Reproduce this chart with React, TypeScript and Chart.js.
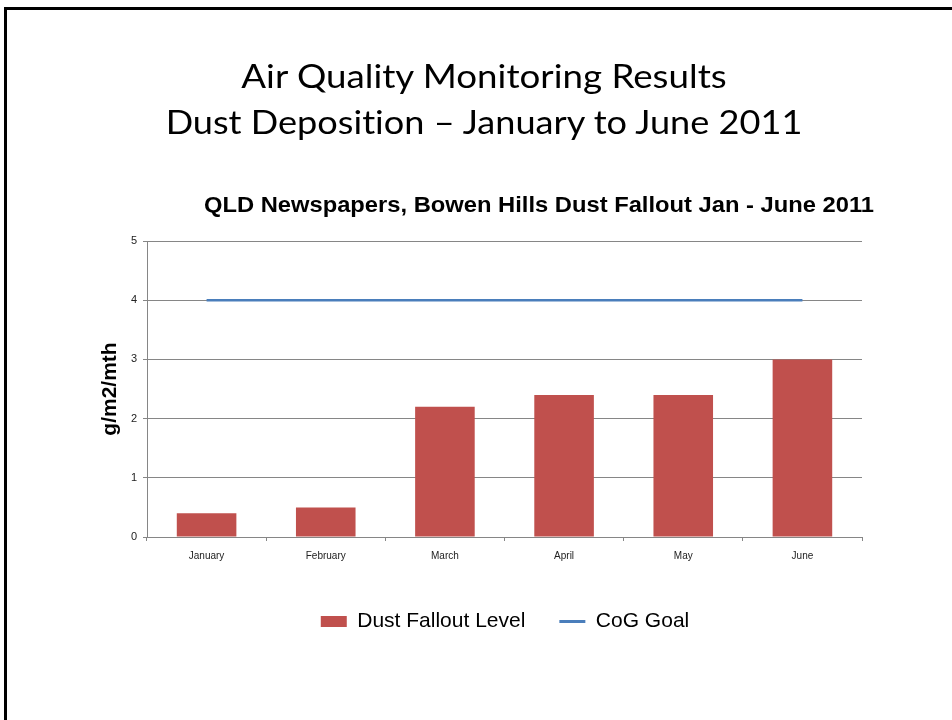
import React, { useEffect, useLayoutEffect, useRef, useState } from "react";
import { Chart, registerables } from "chart.js";

Chart.register(...registerables);

// ---- data ----
const SLIDE_TITLE_LINE_1 = "Air Quality Monitoring Results";
const SLIDE_TITLE_LINE_2 = "Dust Deposition – January to June 2011";
const CHART_TITLE = "QLD Newspapers, Bowen Hills Dust Fallout Jan - June 2011";
const MONTHS = ["January", "February", "March", "April", "May", "June"];
const DUST_FALLOUT_LEVEL = [0.4, 0.5, 2.2, 2.4, 2.4, 3.0];
const COG_GOAL = [4, 4, 4, 4, 4, 4];
const SERIES_NAMES = ["Dust Fallout Level", "CoG Goal"];
const Y_AXIS_TITLE = "g/m2/mth";
const Y_MIN = 0;
const Y_MAX = 5;
const Y_STEP = 1;

const SANS = "'Liberation Sans', Arial, Helvetica, sans-serif";
const BAR_COLOR = "#c0504d";
const LINE_COLOR = "#4a7ebb";
const AXIS_GRAY = "#868686";

function FitText(props: {
  text: string;
  target: number;
  centerX: number;
  top: number;
  style: React.CSSProperties;
}) {
  const ref = useRef<HTMLSpanElement | null>(null);
  const [scale, setScale] = useState(1);
  useLayoutEffect(() => {
    const el = ref.current;
    if (!el) return;
    const w = el.offsetWidth;
    if (w > 0) setScale(props.target / w);
  }, [props.text, props.target]);
  return (
    <span
      ref={ref}
      style={{
        position: "absolute",
        left: props.centerX,
        top: props.top,
        whiteSpace: "nowrap",
        display: "inline-block",
        transformOrigin: "50% 50%",
        transform: `translateX(-50%) scaleX(${scale})`,
        color: "#000",
        fontVariantLigatures: "none",
        ...props.style,
      }}
    >
      {props.text}
    </span>
  );
}

export default function App() {
  const canvasRef = useRef<HTMLCanvasElement | null>(null);

  useEffect(() => {
    const canvas = canvasRef.current;
    if (!canvas) return;
    const chart = new Chart(canvas, {
      type: "bar",
      data: {
        labels: MONTHS,
        datasets: [
          {
            type: "bar",
            label: SERIES_NAMES[0],
            data: DUST_FALLOUT_LEVEL,
            backgroundColor: BAR_COLOR,
            borderWidth: 0,
            barPercentage: 0.5,
            categoryPercentage: 1.0,
            yAxisID: "y",
          },
          {
            type: "line",
            label: SERIES_NAMES[1],
            data: COG_GOAL,
            borderColor: LINE_COLOR,
            backgroundColor: LINE_COLOR,
            borderWidth: 2.5,
            pointRadius: 0,
            fill: false,
            yAxisID: "y",
          } as any,
        ],
      },
      options: {
        responsive: false,
        animation: false,
        devicePixelRatio: 1,
        layout: { padding: { left: 60, right: 2, top: 241, bottom: 78 } },
        plugins: {
          title: { display: false },
          tooltip: { enabled: false },
          legend: {
            display: true,
            position: "bottom",
            labels: {
              usePointStyle: true,
              pointStyleWidth: 26,
              boxHeight: 11,
              padding: 34,
              color: "#000",
              font: { family: SANS, size: 21 },
              generateLabels: (ch: any) => {
                const items = Chart.defaults.plugins.legend.labels.generateLabels(ch);
                return items.map((it: any, i: number) =>
                  i === 0
                    ? { ...it, pointStyle: "rect", fillStyle: BAR_COLOR, strokeStyle: BAR_COLOR, lineWidth: 0 }
                    : { ...it, pointStyle: "line", fillStyle: LINE_COLOR, strokeStyle: LINE_COLOR, lineWidth: 3 }
                );
              },
            },
          },
        },
        scales: {
          x: {
            offset: true,
            grid: {
              display: true,
              drawOnChartArea: false,
              drawTicks: true,
              tickLength: 4,
              color: AXIS_GRAY,
              offset: true,
            },
            border: { display: true, color: AXIS_GRAY, width: 1 },
            ticks: { font: { family: SANS, size: 10 }, color: "#222", padding: 9, maxRotation: 0 },
            afterFit: (s: any) => {
              s.height = 40;
            },
          },
          y: {
            min: Y_MIN,
            max: Y_MAX,
            ticks: { stepSize: Y_STEP, font: { family: SANS, size: 11 }, color: "#222", padding: 6 },
            grid: { color: AXIS_GRAY, tickLength: 4, drawTicks: true },
            border: { display: true, color: AXIS_GRAY },
            title: {
              display: true,
              text: Y_AXIS_TITLE,
              color: "#000",
              font: { family: SANS, size: 21, weight: "bold" },
              padding: { top: 38, bottom: 0 },
            },
            afterFit: (s: any) => {
              s.width = 87;
            },
          },
          yR: {
            type: "linear",
            position: "right",
            display: true,
            grid: { display: false },
            border: { display: false },
            ticks: { display: false },
            afterFit: (s: any) => {
              s.width = 88;
            },
          },
        },
      } as any,
    });
    return () => chart.destroy();
  }, []);

  return (
    <div
      style={{
        position: "absolute",
        left: 0,
        top: 0,
        width: 952,
        height: 720,
        overflow: "hidden",
        background: "#fff",
      }}
    >
      <div
        style={{
          position: "absolute",
          left: 4,
          top: 7,
          right: -20,
          bottom: -20,
          borderLeft: "3px solid #000",
          borderTop: "3px solid #000",
        }}
      />
      <canvas
        ref={canvasRef}
        width={952}
        height={720}
        style={{ position: "absolute", left: 0, top: 0, width: 952, height: 720 }}
      />
      <FitText
        text={SLIDE_TITLE_LINE_1}
        target={485}
        centerX={484}
        top={52}
        style={{ fontFamily: "Lato, 'Open Sans', sans-serif", fontSize: 33, lineHeight: "46px" }}
      />
      <FitText
        text={SLIDE_TITLE_LINE_2}
        target={637}
        centerX={484}
        top={98}
        style={{ fontFamily: "Lato, 'Open Sans', sans-serif", fontSize: 33, lineHeight: "46px" }}
      />
      <FitText
        text={CHART_TITLE}
        target={670}
        centerX={539}
        top={192}
        style={{ fontFamily: SANS, fontSize: 22, fontWeight: "bold", lineHeight: "26px" }}
      />
    </div>
  );
}
